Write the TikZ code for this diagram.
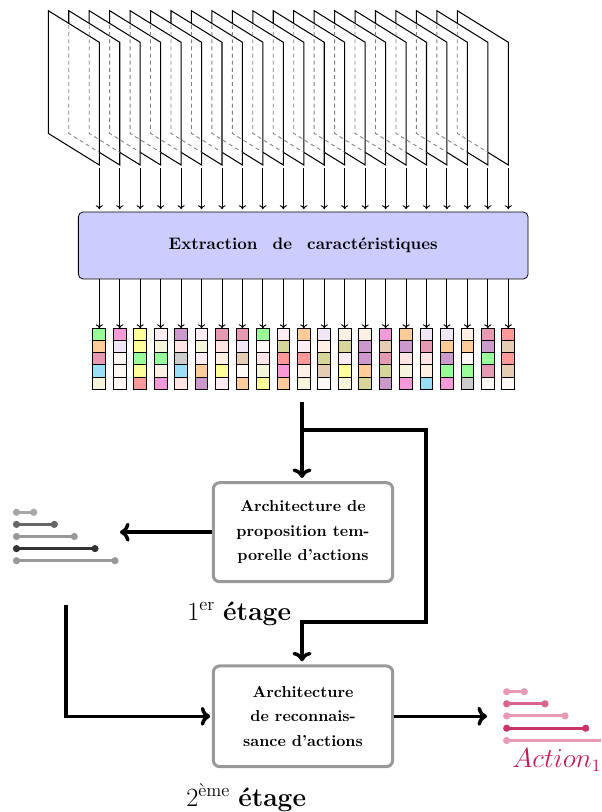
\documentclass[tikz,border=0pt]{standalone}
\usepackage{fontspec}
\usetikzlibrary{arrows.meta}
\definecolor{cG}{HTML}{99FF99}
\definecolor{cO}{HTML}{FFCC99}
\definecolor{cM}{HTML}{E699B3}
\definecolor{cB}{HTML}{99DDF7}
\definecolor{cBe}{HTML}{F5F5DC}
\definecolor{cP}{HTML}{F599D9}
\definecolor{cLav}{HTML}{F0E6F5}
\definecolor{cW}{HTML}{FFF9F5}
\definecolor{cY}{HTML}{FFFF99}
\definecolor{cR}{HTML}{FF9999}
\definecolor{cPl}{HTML}{CC99CC}
\definecolor{cLP}{HTML}{FCEBF2}
\definecolor{cMi}{HTML}{FFE4E6}
\definecolor{cGr}{HTML}{CCCCCC}
\definecolor{cKh}{HTML}{D6D699}
\definecolor{cTa}{HTML}{E6CCB3}
\definecolor{cLO}{HTML}{FFF0E3}
\definecolor{extblue}{HTML}{CCCCFF}
\definecolor{boxgray}{HTML}{999999}
\definecolor{gA}{HTML}{A6A6A6}
\definecolor{gB}{HTML}{666666}
\definecolor{gC}{HTML}{999999}
\definecolor{gD}{HTML}{333333}
\definecolor{pA}{HTML}{E899B5}
\definecolor{pB}{HTML}{D9648E}
\definecolor{pC}{HTML}{CC3366}
\definecolor{actred}{HTML}{C8175A}
\begin{document}
\begin{tikzpicture}[x=0.63pt,y=-0.63pt,
  frame/.style={draw=black,fill=white,line width=0.65pt,line join=miter},
  hidden/.style={draw=black!50,line width=0.55pt,dash pattern=on 2.5pt off 2pt},
  thinarrow/.style={line width=0.6pt,-{To[length=2.5pt,width=4.5pt]}},
  cell/.style={draw=black,line width=0.6pt},
  extbox/.style={draw=black,line width=0.5pt,fill=extblue,rounded corners=3pt,minimum width=283.3pt,minimum height=42.2pt,inner sep=0pt,font=\fontsize{10.5}{12.5}\selectfont\bfseries},
  stagebox/.style={draw=boxgray,line width=1.9pt,fill=white,rounded corners=4pt,minimum width=113pt,inner sep=0pt,align=center,font={\linespread{1.28}\bfseries\selectfont}},
  thk/.style={line width=2.2pt,-{To[length=6pt,width=12pt]}},
  prop/.style={line width=1.9pt},
  stage/.style={anchor=base west,inner sep=0pt,font=\fontsize{16.6}{20}\selectfont},
]
\useasboundingbox (0,0) rectangle (601,812);

% frames, back to front
\foreach \k in {20,19,...,0}{
  \pgfmathsetmacro\xx{48.3+20.45*\k}
  \draw[frame] (\xx,10.7) -- ++(51,31.6) -- ++(0,122.7) -- ++(-51,-31.6) -- cycle;
}
% hidden edges
\foreach \k in {1,...,20}{
  \pgfmathsetmacro\xa{48.3+20.45*(\k-1)}
  \pgfmathsetmacro\xb{\xa+20.45}
  \begin{scope}
    \clip (\xa,10.7) -- ++(51,31.6) -- ++(0,122.7) -- ++(-51,-31.6) -- cycle;
    \draw[hidden] (\xb,10.7) -- ++(0,122.7) -- ++(51,31.6);
  \end{scope}
}

\node[extbox] (ext) at (303.2,245.5) {\makebox[169.5pt][s]{Extraction de caractéristiques}};

\foreach \k in {0,...,20}{
  \pgfmathsetmacro\xc{99.3+20.45*\k}
  \coordinate (f\k) at (\xc,168);
  \coordinate (c\k) at (\xc,328.3);
  \draw[thinarrow,shorten >=1.5pt] (f\k) -- (f\k |- ext.north);
  \draw[thinarrow] (c\k |- ext.south) -- (c\k);
}

% feature columns
\foreach \k/\a/\b/\c/\d/\e in {0/G/O/M/B/Be, 1/P/Lav/W/W/W, 2/Y/Y/G/Y/R, 3/LP/Be/G/LO/P,
  4/Pl/Mi/Gr/B/Mi, 5/LP/Be/LP/O/Pl, 6/M/Mi/LO/Y/LP, 7/M/Lav/Ta/W/O, 8/G/W/Mi/Be/Y,
  9/LP/Kh/R/P/O, 10/O/LP/R/LO/Be, 11/Lav/LO/Kh/Ta/W, 12/LO/Kh/LP/Y/Be, 13/LO/Pl/Pl/O/Kh,
  14/P/Ta/M/Kh/Pl, 15/O/Pl/Mi/Be/P, 16/Lav/M/Mi/LO/B, 17/Lav/O/Pl/G/P, 18/LO/O/W/G/Gr,
  19/M/Pl/G/M/W, 20/R/Ta/R/Ta/W}{
  \pgfmathsetmacro\xc{99.3+20.45*\k}
  \foreach \col [count=\j from 0] in {\a,\b,\c,\d,\e}{
    \filldraw[cell,fill=c\col] (\xc-6.35,328.3+12.2*\j) rectangle ++(12.7,12.2);
  }
}

% stages
\node[stagebox,minimum height=62.4pt] (box1) at (303,532.2) {Architecture de\\proposition tem-\\porelle d'actions};
\node[stagebox,minimum height=63.4pt] (box2) at (303,716.3) {Architecture\\de reconnais-\\sance d'actions};

\coordinate (t0) at (302,402);
\coordinate (t1) at (302,430);
\coordinate (t2) at (426,430);
\coordinate (t3) at (426,622);
\coordinate (t4) at (302,622);
\draw[thk,shorten >=2pt] (t0) -- (t0 |- box1.north);
\draw[thk,shorten >=2pt] (t1) -- (t2) -- (t3) -- (t4) -- (t4 |- box2.north);
\coordinate (l0) at (120,532.2);
\draw[thk] (box1.west) -- (l0);
\coordinate (l1) at (66,605);
\draw[thk,shorten >=1pt] (l1) |- (box2.west);
\coordinate (r0) at (487,716.3);
\draw[thk] (box2.east) -- (r0);

% proposals (gray)
\foreach \e/\y/\c in {33.7/512.3/gA, 54.3/524.4/gB, 74.3/536.5/gC, 95/548.6/gD, 115/560.7/gC}{
  \draw[prop,\c] (16.5,\y) -- (\e,\y);
  \fill[\c] (16.5,\y) circle (3.6) (\e,\y) circle (3.6);
}
% proposals (pink)
\foreach \e/\y/\c in {524.3/691.7/pA, 545/703.8/pB, 565/715.9/pA, 585.7/728.2/pC}{
  \draw[prop,\c] (506.7,\y) -- (\e,\y);
  \fill[\c] (506.7,\y) circle (3.6) (\e,\y) circle (3.6);
}
\draw[prop,pA] (506.7,740.5) -- (601,740.5);
\fill[pA] (506.7,740.5) circle (3.6);

\node[stage] (s1) at (187,620) {1\textsuperscript{er} \textbf{étage}};
\node[stage] (s2) at (186,806) {2\textsuperscript{ème} \textbf{étage}};
\node[stage,text=actred,font=\fontsize{16}{19}\selectfont] (act) at (512,767) {$Action_1$};
\end{tikzpicture}
\end{document}
